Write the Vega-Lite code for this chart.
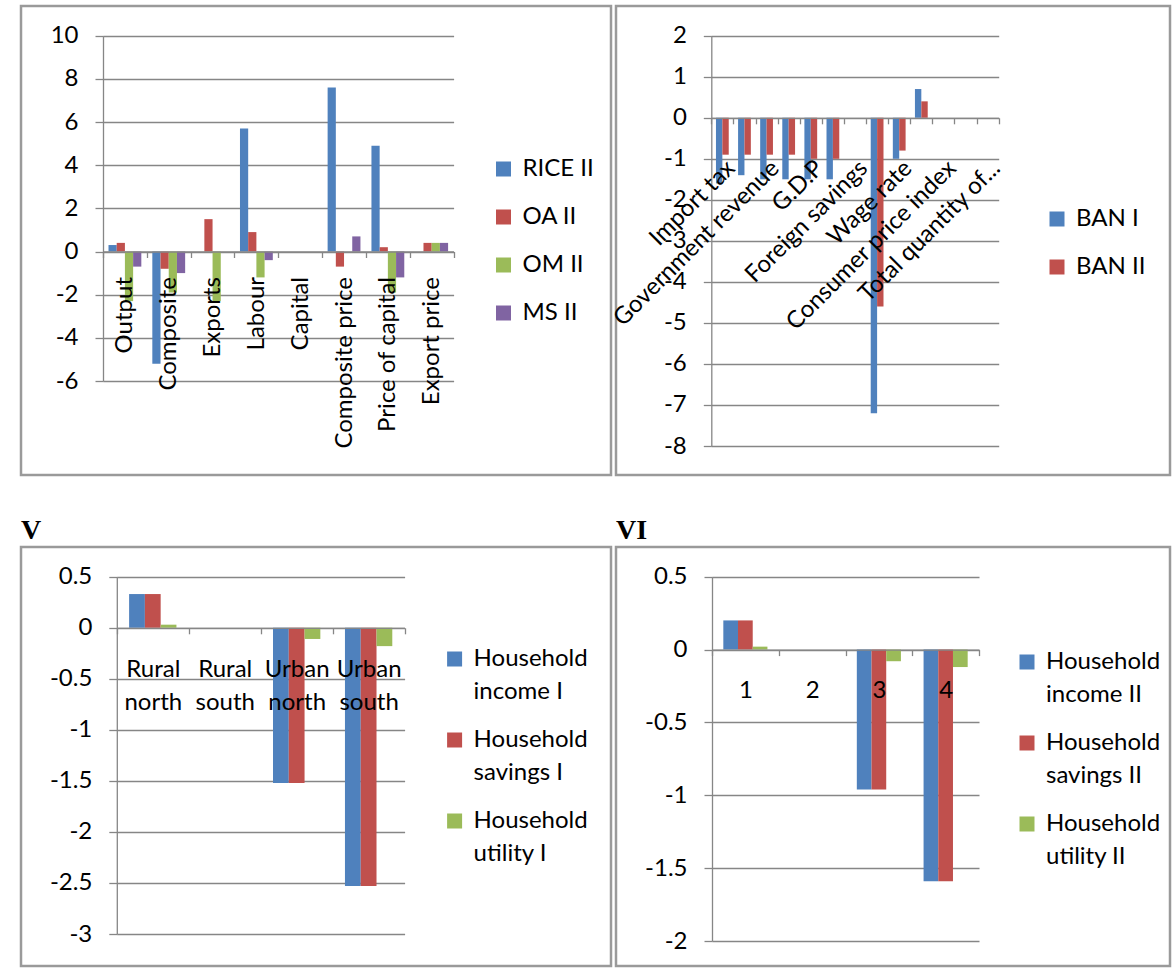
{
  "$schema": "https://vega.github.io/schema/vega-lite/v6.json",
  "background": "white",
  "padding": {"left": 7, "top": 4, "right": 0, "bottom": 0},
  "datasets": {
    "topLeft": [
      {"category": "Output", "series": "RICE II", "value": 0.3},
      {"category": "Output", "series": "OA II", "value": 0.4},
      {"category": "Output", "series": "OM II", "value": -2.3},
      {"category": "Output", "series": "MS II", "value": -0.7},
      {"category": "Composite", "series": "RICE II", "value": -5.2},
      {"category": "Composite", "series": "OA II", "value": -0.8},
      {"category": "Composite", "series": "OM II", "value": -1.9},
      {"category": "Composite", "series": "MS II", "value": -1.0},
      {"category": "Exports", "series": "RICE II", "value": 0},
      {"category": "Exports", "series": "OA II", "value": 1.5},
      {"category": "Exports", "series": "OM II", "value": -2.3},
      {"category": "Exports", "series": "MS II", "value": 0},
      {"category": "Labour", "series": "RICE II", "value": 5.7},
      {"category": "Labour", "series": "OA II", "value": 0.9},
      {"category": "Labour", "series": "OM II", "value": -1.2},
      {"category": "Labour", "series": "MS II", "value": -0.4},
      {"category": "Capital", "series": "RICE II", "value": 0},
      {"category": "Capital", "series": "OA II", "value": 0},
      {"category": "Capital", "series": "OM II", "value": 0},
      {"category": "Capital", "series": "MS II", "value": 0},
      {"category": "Composite price", "series": "RICE II", "value": 7.6},
      {"category": "Composite price", "series": "OA II", "value": -0.7},
      {"category": "Composite price", "series": "OM II", "value": 0},
      {"category": "Composite price", "series": "MS II", "value": 0.7},
      {"category": "Price of capital", "series": "RICE II", "value": 4.9},
      {"category": "Price of capital", "series": "OA II", "value": 0.2},
      {"category": "Price of capital", "series": "OM II", "value": -1.9},
      {"category": "Price of capital", "series": "MS II", "value": -1.2},
      {"category": "Export price", "series": "RICE II", "value": 0},
      {"category": "Export price", "series": "OA II", "value": 0.4},
      {"category": "Export price", "series": "OM II", "value": 0.4},
      {"category": "Export price", "series": "MS II", "value": 0.4}
    ],
    "topRight": [
      {"category": "Import tax", "series": "BAN I", "value": -1.6},
      {"category": "Import tax", "series": "BAN II", "value": -0.9},
      {"category": "Household income", "series": "BAN I", "value": -1.4},
      {"category": "Household income", "series": "BAN II", "value": -0.9},
      {"category": "Government revenue", "series": "BAN I", "value": -1.5},
      {"category": "Government revenue", "series": "BAN II", "value": -0.9},
      {"category": "Investment", "series": "BAN I", "value": -1.5},
      {"category": "Investment", "series": "BAN II", "value": -0.9},
      {"category": "G.D.P", "series": "BAN I", "value": -1.5},
      {"category": "G.D.P", "series": "BAN II", "value": -1.0},
      {"category": "Exchange rate", "series": "BAN I", "value": -1.5},
      {"category": "Exchange rate", "series": "BAN II", "value": -1.0},
      {"category": "Foreign savings", "series": "BAN I", "value": 0},
      {"category": "Foreign savings", "series": "BAN II", "value": 0},
      {"category": "Rental rate", "series": "BAN I", "value": -7.2},
      {"category": "Rental rate", "series": "BAN II", "value": -4.6},
      {"category": "Wage rate", "series": "BAN I", "value": -1.0},
      {"category": "Wage rate", "series": "BAN II", "value": -0.8},
      {"category": "Export price index", "series": "BAN I", "value": 0.7},
      {"category": "Export price index", "series": "BAN II", "value": 0.4},
      {"category": "Consumer price index", "series": "BAN I", "value": 0},
      {"category": "Consumer price index", "series": "BAN II", "value": 0},
      {"category": "Total quantity of exports", "series": "BAN I", "value": 0},
      {"category": "Total quantity of exports", "series": "BAN II", "value": 0},
      {"category": "Total quantity of...", "series": "BAN I", "value": 0},
      {"category": "Total quantity of...", "series": "BAN II", "value": 0}
    ],
    "bottomLeft": [
      {"category": "Rural north", "series": "Household income I", "value": 0.33},
      {"category": "Rural north", "series": "Household savings I", "value": 0.33},
      {"category": "Rural north", "series": "Household utility I", "value": 0.03},
      {"category": "Rural south", "series": "Household income I", "value": 0},
      {"category": "Rural south", "series": "Household savings I", "value": 0},
      {"category": "Rural south", "series": "Household utility I", "value": 0},
      {"category": "Urban north", "series": "Household income I", "value": -1.52},
      {"category": "Urban north", "series": "Household savings I", "value": -1.52},
      {"category": "Urban north", "series": "Household utility I", "value": -0.11},
      {"category": "Urban south", "series": "Household income I", "value": -2.53},
      {"category": "Urban south", "series": "Household savings I", "value": -2.53},
      {"category": "Urban south", "series": "Household utility I", "value": -0.18}
    ],
    "bottomRight": [
      {"category": "1", "series": "Household income II", "value": 0.2},
      {"category": "1", "series": "Household savings II", "value": 0.2},
      {"category": "1", "series": "Household utility II", "value": 0.02},
      {"category": "2", "series": "Household income II", "value": 0},
      {"category": "2", "series": "Household savings II", "value": 0},
      {"category": "2", "series": "Household utility II", "value": 0},
      {"category": "3", "series": "Household income II", "value": -0.96},
      {"category": "3", "series": "Household savings II", "value": -0.96},
      {"category": "3", "series": "Household utility II", "value": -0.08},
      {"category": "4", "series": "Household income II", "value": -1.59},
      {"category": "4", "series": "Household savings II", "value": -1.59},
      {"category": "4", "series": "Household utility II", "value": -0.12}
    ]
  },
  "columns": 2,
  "spacing": {"row": 72, "column": 5},
  "bounds": "flush",
  "concat": [
    {
      "width": 590,
      "height": 469,
      "data": {"name": "topLeft"},
      "mark": {"type": "bar"},
      "encoding": {
        "x": {
          "field": "category", "type": "nominal",
          "sort": ["Output", "Composite", "Exports", "Labour", "Capital", "Composite price", "Price of capital", "Export price"],
          "scale": {"range": [82, 432.6], "paddingInner": 0, "paddingOuter": 0},
          "axis": {"orient": "bottom", "offset": -223.5, "title": null, "labelAngle": -90, "labelAlign": "right", "labelBaseline": "middle", "tickBand": "extent", "zindex": 1, "labelPadding": 19, "tickSize": 6, "grid": false}
        },
        "xOffset": {"field": "series", "type": "nominal", "sort": ["RICE II", "OA II", "OM II", "MS II"], "scale": {"paddingInner": 0, "paddingOuter": 0.67}},
        "y": {
          "field": "value", "type": "quantitative",
          "scale": {"domain": [-6, 10], "range": [375, 29.7], "nice": false, "zero": false},
          "axis": {"offset": -82, "title": null, "values": [-6, -4, -2, 0, 2, 4, 6, 8, 10], "labelExpr": "'' + datum.value", "grid": true, "tickSize": 8, "labelPadding": 17, "zindex": 0}
        },
        "color": {
          "field": "series", "type": "nominal",
          "scale": {"domain": ["RICE II", "OA II", "OM II", "MS II"], "range": ["#4F81BD", "#C0504D", "#9BBB59", "#8064A2"]},
          "legend": {"orient": "none", "legendX": 470.5, "legendY": 151, "title": null, "rowPadding": 24}
        }
      }
    },
    {
      "width": 554,
      "height": 469,
      "data": {"name": "topRight"},
      "mark": {"type": "bar"},
      "encoding": {
        "x": {
          "field": "category", "type": "nominal",
          "sort": ["Import tax", "Household income", "Government revenue", "Investment", "G.D.P", "Exchange rate", "Foreign savings", "Rental rate", "Wage rate", "Export price index", "Consumer price index", "Total quantity of exports", "Total quantity of..."],
          "scale": {"range": [95.3, 382.7], "paddingInner": 0, "paddingOuter": 0},
          "axis": {"orient": "bottom", "offset": -357.2, "title": null, "labelAngle": -45, "labelAlign": "right", "labelBaseline": "top", "tickBand": "extent", "zindex": 1, "labelPadding": 32, "tickSize": 6, "grid": false,
            "labelExpr": "indexof(['Import tax', 'Government revenue', 'G.D.P', 'Foreign savings', 'Wage rate', 'Consumer price index', 'Total quantity of...'], datum.value) >= 0 ? datum.label : ''"}
        },
        "xOffset": {"field": "series", "type": "nominal", "sort": ["BAN I", "BAN II"], "scale": {"paddingInner": 0, "paddingOuter": 0.73}},
        "y": {
          "field": "value", "type": "quantitative",
          "scale": {"domain": [-8, 2], "range": [440, 29.7], "nice": false, "zero": false},
          "axis": {"offset": -95.3, "title": null, "values": [-8, -7, -6, -5, -4, -3, -2, -1, 0, 1, 2], "labelExpr": "'' + datum.value", "grid": true, "tickSize": 8, "labelPadding": 17, "zindex": 0}
        },
        "color": {
          "field": "series", "type": "nominal",
          "scale": {"domain": ["BAN I", "BAN II"], "range": ["#4F81BD", "#C0504D"]},
          "legend": {"orient": "none", "legendX": 429, "legendY": 201, "title": null, "rowPadding": 24}
        }
      }
    },
    {
      "width": 590,
      "height": 419,
      "title": {"text": "V", "anchor": "start", "offset": 2},
      "data": {"name": "bottomLeft"},
      "mark": {"type": "bar"},
      "encoding": {
        "x": {
          "field": "category", "type": "nominal",
          "sort": ["Rural north", "Rural south", "Urban north", "Urban south"],
          "scale": {"range": [95.8, 383.6], "paddingInner": 0, "paddingOuter": 0},
          "axis": {"orient": "bottom", "offset": -338.2, "title": null, "labelAngle": 0, "labelAlign": "center", "labelBaseline": "top", "tickBand": "extent", "zindex": 1, "labelPadding": 24, "tickSize": 6, "grid": false, "labelLineHeight": 32.5,
            "labelExpr": "split(datum.label, ' ')"}
        },
        "xOffset": {"field": "series", "type": "nominal", "sort": ["Household income I", "Household savings I", "Household utility I"], "scale": {"paddingInner": 0, "paddingOuter": 0.78}},
        "y": {
          "field": "value", "type": "quantitative",
          "scale": {"domain": [-3, 0.5], "range": [387, 29.7], "nice": false, "zero": false},
          "axis": {"offset": -95.8, "title": null, "values": [-3, -2.5, -2, -1.5, -1, -0.5, 0, 0.5], "labelExpr": "'' + datum.value", "grid": true, "tickSize": 8, "labelPadding": 17, "zindex": 0}
        },
        "color": {
          "field": "series", "type": "nominal",
          "scale": {"domain": ["Household income I", "Household savings I", "Household utility I"], "range": ["#4F81BD", "#C0504D", "#9BBB59"]},
          "legend": {"orient": "none", "legendX": 421.6, "legendY": 100, "title": null, "rowPadding": 24,
            "labelExpr": "[substring(datum.label, 0, 9), substring(datum.label, 10)]"}
        }
      }
    },
    {
      "width": 554,
      "height": 419,
      "title": {"text": "VI", "anchor": "start", "offset": 2},
      "data": {"name": "bottomRight"},
      "mark": {"type": "bar"},
      "encoding": {
        "x": {
          "field": "category", "type": "nominal",
          "sort": ["1", "2", "3", "4"],
          "scale": {"range": [96, 363], "paddingInner": 0, "paddingOuter": 0},
          "axis": {"orient": "bottom", "offset": -316.4, "title": null, "labelAngle": 0, "labelAlign": "center", "labelBaseline": "top", "tickBand": "extent", "zindex": 1, "labelPadding": 23, "tickSize": 6, "grid": false}
        },
        "xOffset": {"field": "series", "type": "nominal", "sort": ["Household income II", "Household savings II", "Household utility II"], "scale": {"paddingInner": 0, "paddingOuter": 0.77}},
        "y": {
          "field": "value", "type": "quantitative",
          "scale": {"domain": [-2, 0.5], "range": [394, 29.7], "nice": false, "zero": false},
          "axis": {"offset": -96, "title": null, "values": [-2, -1.5, -1, -0.5, 0, 0.5], "labelExpr": "'' + datum.value", "grid": true, "tickSize": 8, "labelPadding": 17, "zindex": 0}
        },
        "color": {
          "field": "series", "type": "nominal",
          "scale": {"domain": ["Household income II", "Household savings II", "Household utility II"], "range": ["#4F81BD", "#C0504D", "#9BBB59"]},
          "legend": {"orient": "none", "legendX": 399, "legendY": 103, "title": null, "rowPadding": 24,
            "labelExpr": "[substring(datum.label, 0, 9), substring(datum.label, 10)]"}
        }
      }
    }
  ],
  "resolve": {"scale": {"color": "independent", "x": "independent", "y": "independent", "xOffset": "independent"}},
  "config": {
    "view": {"stroke": "#9a9a9a", "strokeWidth": 2.5},
    "bar": {"strokeWidth": 0},
    "axis": {
      "labelFont": "Lato", "labelFontSize": 24, "labelColor": "#000000", "labelLimit": 400,
      "domainColor": "#868686", "domainWidth": 1.3, "tickColor": "#868686", "tickWidth": 1.3,
      "gridColor": "#868686", "gridWidth": 1.3, "gridOpacity": 1
    },
    "legend": {
      "labelFont": "Lato", "labelFontSize": 24, "labelColor": "#000000", "labelLimit": 400,
      "symbolType": "square", "symbolSize": 225, "symbolStrokeWidth": 0, "symbolOpacity": 1, "labelOffset": 7
    },
    "title": {"font": "Liberation Serif", "fontSize": 28, "fontWeight": "bold", "color": "#000000"},
    "style": {"guide-label": {"lineHeight": 32.5}}
  }
}
